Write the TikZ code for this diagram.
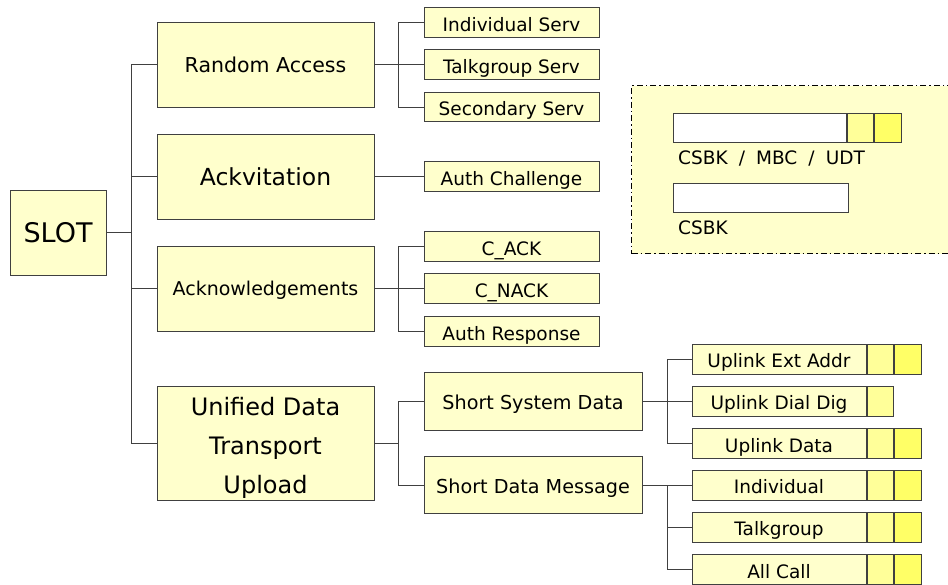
\documentclass[tikz,border=0pt]{standalone}
\usepackage{fontspec}
\setmainfont{DejaVu Sans}
\definecolor{boxfill}{HTML}{FFFFCC}
\definecolor{smallA}{HTML}{FFFF99}
\definecolor{smallB}{HTML}{FFFF66}
\definecolor{edge}{HTML}{404040}
\begin{document}
\begin{tikzpicture}[x=1pt,y=-1pt,
  box/.style={draw=edge,line width=1pt,fill=boxfill,inner sep=0pt,anchor=center,text depth=0pt},
  lone/.style={box,minimum width=217pt,minimum height=85pt},
  ltwo/.style={box,minimum width=175pt,minimum height=29.5pt,text height=17.5pt,font=\fontsize{18.5}{22}\selectfont},
  lthree/.style={box,minimum width=174pt,minimum height=30pt,text height=17.5pt,font=\fontsize{18.5}{22}\selectfont},
  sa/.style={draw=edge,line width=1pt,fill=smallA,minimum width=26pt,minimum height=30pt,inner sep=0pt,anchor=west},
  sb/.style={draw=edge,line width=1pt,fill=smallB,minimum width=27pt,minimum height=30pt,inner sep=0pt,anchor=west},
  conn/.style={draw=edge,line width=1pt},
  legendbox/.style={draw=black,line width=1.4pt,fill=boxfill,dash pattern=on 6pt off 3pt on 1.5pt off 3pt},
  legtext/.style={font=\fontsize{18.5}{22}\selectfont,anchor=west,inner sep=0pt}
]
\useasboundingbox (0,0) rectangle (948,584);

% legend
\node[legendbox,minimum width=340pt,minimum height=168pt,anchor=north west,inner sep=0pt] (legend) at (631,85) {};
\node[draw=edge,line width=1pt,fill=white,minimum width=173pt,minimum height=29pt,inner sep=0pt,anchor=north west] (lbar1) at (673,113) {};
\node[sa,minimum height=29pt] (lbar1a) at (lbar1.east) {};
\node[sb,minimum height=29pt] (lbar1b) at (lbar1a.east) {};
\node[legtext] (ltxt1) at (678,158) {CSBK\hspace{0.6em}/\hspace{0.6em}MBC\hspace{0.6em}/\hspace{0.6em}UDT};
\node[draw=edge,line width=1pt,fill=white,minimum width=175pt,minimum height=29pt,inner sep=0pt,anchor=north west] (lbar2) at (673,183) {};
\node[legtext] (ltxt2) at (678,228) {CSBK};

% root
\node[box,minimum width=96pt,minimum height=85pt,text height=19.7pt,font=\fontsize{27}{30}\selectfont] (slot) at (58,232.5) {SLOT};

% level 1
\node[lone,text height=15pt,font=\fontsize{20.5}{24}\selectfont] (ra) at (265.5,64.5) {Random Access};
\node[lone,text height=17.2pt,font=\fontsize{23.5}{27}\selectfont] (ack) at (265.5,176.5) {Ackvitation};
\node[lone,text height=13.9pt,font=\fontsize{19}{22}\selectfont] (akn) at (265.5,288.5) {Acknowledgements};
\node[lone,minimum height=114pt] (udt) at (265.5,443) {};
\node[align=center,inner sep=0pt,font=\fontsize{24}{39}\selectfont] (udttext) at ([yshift=-5pt]udt.center) {Unified Data\\Transport\\Upload};

% level 2
\node[ltwo] (is) at (511.5,22.5) {Individual Serv};
\node[ltwo] (ts) at (511.5,64.5) {Talkgroup Serv};
\node[ltwo] (ss) at (511.5,107) {Secondary Serv};
\node[ltwo] (ac) at (511.5,176.5) {Auth Challenge};
\node[ltwo] (cack) at (511.5,246.5) {C\_ACK};
\node[ltwo] (cnack) at (511.5,288.5) {C\_NACK};
\node[ltwo] (ar) at (511.5,331.5) {Auth Response};
\node[box,minimum width=218pt,minimum height=58pt,text height=17pt,font=\fontsize{19.2}{22}\selectfont] (ssd) at (533,401) {Short System Data};
\node[box,minimum width=218pt,minimum height=57pt,text height=17pt,font=\fontsize{19.2}{22}\selectfont] (sdm) at (533,485) {Short Data Message};

% level 3
\node[lthree] (uea) at (779,359) {Uplink Ext Addr};
\node[sa] (uea1) at (uea.east) {};
\node[sb] (uea2) at (uea1.east) {};
\node[lthree] (udd) at (779,401) {Uplink Dial Dig};
\node[sa] (udd1) at (udd.east) {};
\node[lthree] (ud) at (779,443.5) {Uplink Data};
\node[sa] (ud1) at (ud.east) {};
\node[sb] (ud2) at (ud1.east) {};
\node[lthree] (ind) at (779,485) {Individual};
\node[sa] (ind1) at (ind.east) {};
\node[sb] (ind2) at (ind1.east) {};
\node[lthree] (tg) at (779,527) {Talkgroup};
\node[sa] (tg1) at (tg.east) {};
\node[sb] (tg2) at (tg1.east) {};
\node[lthree] (all) at (779,569.5) {All Call};
\node[sa] (all1) at (all.east) {};
\node[sb] (all2) at (all1.east) {};

% junction coordinates
\coordinate (j1) at (131,232.5);
\coordinate (j2) at (398,64.5);
\coordinate (j3) at (398,288.5);
\coordinate (j4) at (398,443);
\coordinate (j5) at (667,401);
\coordinate (j6) at (667,485);

% connectors
\draw[conn] (slot.east) -- (j1);
\draw[conn] (j1) |- (ra.west);
\draw[conn] (j1) |- (ack.west);
\draw[conn] (j1) |- (akn.west);
\draw[conn] (j1) |- (udt.west);

\draw[conn] (ra.east) -- (ts.west);
\draw[conn] (j2) |- (is.west);
\draw[conn] (j2) |- (ss.west);

\draw[conn] (ack.east) -- (ac.west);

\draw[conn] (akn.east) -- (cnack.west);
\draw[conn] (j3) |- (cack.west);
\draw[conn] (j3) |- (ar.west);

\draw[conn] (udt.east) -- (j4);
\draw[conn] (j4) |- (ssd.west);
\draw[conn] (j4) |- (sdm.west);

\draw[conn] (ssd.east) -- (udd.west);
\draw[conn] (j5) |- (uea.west);
\draw[conn] (j5) |- (ud.west);

\draw[conn] (sdm.east) -- (ind.west);
\draw[conn] (j6) |- (tg.west);
\draw[conn] (j6) |- (all.west);
\end{tikzpicture}
\end{document}
